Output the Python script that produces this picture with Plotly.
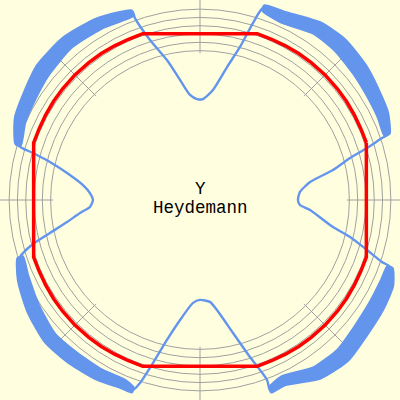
import math
import plotly.graph_objects as go

# ---- data (data units, 1.0 = nominal radius) ----
grid_radii = [0.90, 0.95, 1.00, 1.05, 1.10, 1.15]
tick_angles = [0, 45, 90, 135, 180, 225, 270, 315]

# blue trace: centre line of the measured loop, with half spread of the noise band
blue_x = [0.590, 0.602, 0.663, 0.801, 0.904, 1.006, 1.096,
          1.127, 1.102, 1.042, 0.964, 0.843, 0.705, 0.500, 0.380,
          0.319, 0.241, 0.163, 0.078, 0.018, -0.018, -0.060, -0.120, -0.199, -0.301, -0.392,
          -0.404, -0.602, -0.801, -0.946, -1.024, -1.084, -1.096,
          -1.006, -0.904, -0.801, -0.705, -0.663, -0.645, -0.663, -0.723, -0.801, -0.904, -1.006, -1.066,
          -1.084, -1.066, -1.006, -0.904, -0.765, -0.602, -0.464, -0.404,
          -0.361, -0.283, -0.199, -0.120, -0.042, 0.000, 0.060, 0.102, 0.199, 0.301, 0.404,
          0.422, 0.500, 0.705, 0.861, 0.964, 1.066, 1.127, 1.145,
          1.096, 1.006, 0.904, 0.801, 0.663, 0.602, 0.590]
blue_y = [0.000, 0.048, 0.108, 0.181, 0.253, 0.313, 0.373,
          0.392, 0.512, 0.645, 0.783, 0.934, 1.036, 1.102, 1.157,
          1.066, 0.922, 0.801, 0.663, 0.608, 0.608, 0.633, 0.723, 0.843, 0.964, 1.096,
          1.127, 1.066, 0.946, 0.783, 0.633, 0.482, 0.331,
          0.283, 0.229, 0.163, 0.090, 0.042, 0.000, -0.042, -0.078, -0.133, -0.199, -0.265, -0.319,
          -0.343, -0.470, -0.651, -0.831, -0.952, -1.054, -1.108, -1.145,
          -1.102, -0.982, -0.843, -0.723, -0.620, -0.602, -0.614, -0.663, -0.801, -0.946, -1.084,
          -1.145, -1.090, -1.042, -0.934, -0.795, -0.633, -0.500, -0.404,
          -0.373, -0.301, -0.223, -0.163, -0.060, -0.030, 0.000]
blue_spread = [0, 0, 0, 0, 0, 0, 0,
               0.018, 0.036, 0.042, 0.048, 0.048, 0.042, 0.036, 0.018,
               0, 0, 0, 0, 0, 0, 0, 0, 0, 0, 0,
               0.018, 0.036, 0.042, 0.048, 0.042, 0.036, 0.018,
               0, 0, 0, 0, 0, 0, 0, 0, 0, 0, 0, 0,
               0.018, 0.036, 0.042, 0.042, 0.042, 0.036, 0.030, 0.018,
               0, 0, 0, 0, 0, 0, 0, 0, 0, 0, 0,
               0.018, 0.030, 0.042, 0.048, 0.048, 0.048, 0.042, 0.018,
               0, 0, 0, 0, 0, 0, 0]

# red trace: corrected (Heydemann) loop, polar samples
red_theta = [19, 24, 29, 34, 39, 45, 51, 56, 61, 66, 71,
             109, 114, 119, 124, 129, 135, 141, 146, 151, 156, 161,
             199, 204, 209, 214, 219, 225, 231, 236, 241, 246, 251,
             289, 294, 299, 304, 309, 315, 321, 326, 331, 336, 341, 379]
red_r = [1.060, 1.060, 1.062, 1.064, 1.065, 1.066, 1.065, 1.064, 1.062, 1.060, 1.060,
         1.060, 1.060, 1.062, 1.064, 1.065, 1.066, 1.065, 1.064, 1.062, 1.060, 1.060,
         1.060, 1.060, 1.062, 1.064, 1.065, 1.066, 1.065, 1.064, 1.062, 1.060, 1.060,
         1.060, 1.060, 1.062, 1.064, 1.065, 1.066, 1.065, 1.064, 1.062, 1.060, 1.060, 1.060]

title_lines = ["Y", "Heydemann"]

# ---- figure ----
BG = "#FFFFE0"
GRID = "#A0A0A0"
BLUE = "#6495ED"
RED = "#FF0000"
R_MAX = 1.205
FONT = dict(family="Courier New, Liberation Mono, monospace", size=17.5, color="#000000")

fig = go.Figure()

shapes = []
for r in grid_radii:
    shapes.append(dict(type="circle", xref="x", yref="y", x0=-r, y0=-r, x1=r, y1=r,
                       line=dict(color=GRID, width=1), layer="below"))
for a in tick_angles:
    c, s = math.cos(math.radians(a)), math.sin(math.radians(a))
    r_out = 1.25 if a % 90 == 0 else 1.21
    shapes.append(dict(type="line", xref="x", yref="y", x0=0.885 * c, y0=0.885 * s,
                       x1=r_out * c, y1=r_out * s, line=dict(color=GRID, width=1), layer="below"))

# noise bands (filled polygons around the centre line where spread > 0)
runs = []
cur = []
for i, w in enumerate(blue_spread):
    if w > 0:
        cur.append(i)
    elif cur:
        runs.append(cur)
        cur = []
if cur:
    runs.append(cur)
for run in runs:
    ox, oy, ix, iy = [], [], [], []
    for i in run:
        x, y, w = blue_x[i], blue_y[i], blue_spread[i]
        r = math.hypot(x, y)
        ox.append(x * (1 + w / r)); oy.append(y * (1 + w / r))
        ix.append(x * (1 - w / r)); iy.append(y * (1 - w / r))
    px = ox + ix[::-1] + [ox[0]]
    py = oy + iy[::-1] + [oy[0]]
    fig.add_trace(go.Scatter(x=px, y=py, mode="lines", fill="toself", fillcolor=BLUE,
                             line=dict(color=BLUE, width=1.5, shape="spline", smoothing=0.6,
                                       simplify=False),
                             hoverinfo="skip"))

fig.add_trace(go.Scatter(x=blue_x, y=blue_y, mode="lines",
                         line=dict(color=BLUE, width=2.4, shape="spline", smoothing=0.6,
                                   simplify=False),
                         hoverinfo="skip"))

red_x = [r * math.cos(math.radians(t)) for t, r in zip(red_theta, red_r)]
red_y = [r * math.sin(math.radians(t)) for t, r in zip(red_theta, red_r)]
fig.add_trace(go.Scatter(x=red_x, y=red_y, mode="lines",
                         line=dict(color=RED, width=3.5, simplify=False), hoverinfo="skip"))

annotations = [
    dict(x=0, y=0.066, xref="x", yref="y", text=title_lines[0], showarrow=False,
         font=FONT, xanchor="center", yanchor="middle"),
    dict(x=0, y=-0.046, xref="x", yref="y", text=title_lines[1], showarrow=False,
         font=FONT, xanchor="center", yanchor="middle"),
]

fig.update_layout(
    width=400, height=400,
    margin=dict(l=0, r=0, t=0, b=0),
    paper_bgcolor=BG, plot_bgcolor=BG,
    showlegend=False,
    shapes=shapes,
    annotations=annotations,
    xaxis=dict(range=[-R_MAX, R_MAX], visible=False, fixedrange=True),
    yaxis=dict(range=[-R_MAX, R_MAX], visible=False, fixedrange=True),
)

fig.write_html("out.html", config={"displayModeBar": False},
               post_script="document.body.style.margin='0';document.body.style.background='" + BG + "';")
